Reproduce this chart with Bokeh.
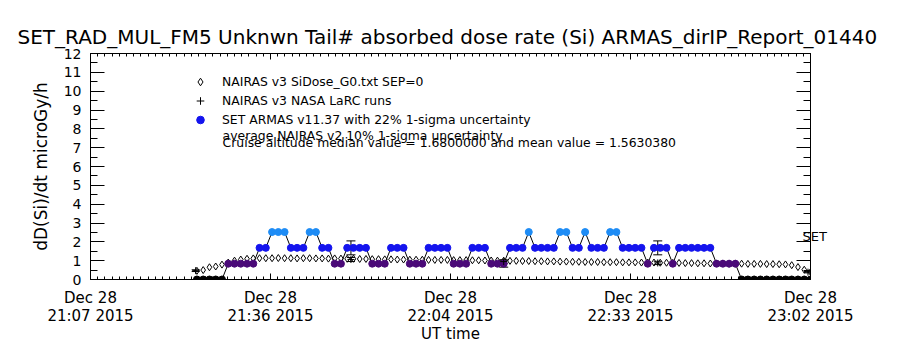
import numpy as np
import pandas as pd
from bokeh.plotting import figure
from bokeh.models import (Range1d, FixedTicker, DatetimeTickFormatter, DatetimeAxis, LinearAxis,
                          SingleIntervalTicker, ColumnDataSource, Whisker, TeeHead, Legend,
                          LegendItem, Label, CustomJSTickFormatter)
from bokeh.transform import linear_cmap
from bokeh.embed import file_html
from bokeh.resources import INLINE

# ---------------- data ----------------
day = "2015-12-28"
axis_start = "21:07:20"
axis_end = "23:02:20"
tick_times = ["21:07:20", "21:36:05", "22:04:50", "22:33:35", "23:02:20"]

# minutes after axis start, one sample per minute
armas_minutes = list(range(17, 116))
Z, P, B, L = 0.0, 0.84, 1.68, 2.52
armas_dose = ([Z] * 5 + [P] * 5 + [B] * 2 + [L] * 3 + [B] * 3 + [L] * 2 + [B] * 2 + [P] * 2 +
              [B] * 4 + [P] * 3 + [B] * 3 + [P] * 3 + [B] * 4 + [P] * 3 + [B] * 3 + [P] * 3 +
              [B] * 3 + [L] * 1 + [B] * 4 + [L] * 2 + [B] * 2 + [L] * 1 + [B] * 3 + [L] * 2 +
              [B] * 4 + [P] * 1 + [B] * 3 + [P] * 1 + [B] * 6 + [P] * 4 + [Z] * 12)

nairas_dose = [0.46, 0.50, 0.65, 0.69, 0.79, 0.90, 1.00, 1.06, 1.10, 1.12,
               1.13, 1.13, 1.13, 1.14, 1.13, 1.13, 1.12, 1.13, 1.13, 1.12,
               1.12, 1.11, 1.12, 1.11, 1.10, 1.10, 1.09, 1.09, 1.08, 1.08,
               1.07, 1.07, 1.06, 1.06, 1.05, 1.05, 1.05, 1.04, 1.04, 1.04,
               1.04, 1.03, 1.03, 1.03, 1.02, 1.02, 1.01, 1.01, 1.00, 1.00,
               0.99, 0.99, 0.98, 0.98, 0.97, 0.97, 0.96, 0.96, 0.95, 0.95,
               0.94, 0.94, 0.93, 0.93, 0.93, 0.92, 0.92, 0.92, 0.91, 0.91,
               0.91, 0.90, 0.90, 0.90, 0.89, 0.89, 0.88, 0.88, 0.87, 0.87,
               0.86, 0.86, 0.85, 0.85, 0.85, 0.84, 0.84, 0.84, 0.83, 0.83,
               0.83, 0.82, 0.82, 0.81, 0.80, 0.76, 0.66, 0.52, 0.40]

larc_minutes = [16.8, 41.6, 66.0, 90.6, 114.6]
larc_dose = [0.47, 1.06, 0.95, 0.88, 0.39]
larc_sigma = 0.10

armas_err_minutes = [41.6, 66.0, 90.6]
armas_err_dose = [1.68, 0.84, 1.68]
armas_sigma = 0.22

set_label_dose = 2.28
level_colors = ["#000000", "#4a0a78", "#1414ee", "#1e8cf5"]

# ---------------- helpers ----------------
t0 = pd.Timestamp(f"{day} {axis_start}")
t1 = pd.Timestamp(f"{day} {axis_end}")


def at(mins):
    return t0 + pd.to_timedelta(np.asarray(mins, dtype=float), unit="min")


def ms(ts):
    return pd.Timestamp(ts).value / 1e6


FONT = "DejaVu Sans"
blank = CustomJSTickFormatter(code="return ''")

p = figure(frame_width=720, frame_height=226, x_axis_type="datetime",
           x_range=Range1d(t0, t1), y_range=Range1d(0, 12),
           output_backend="svg", toolbar_location=None,
           min_border_left=90, min_border_right=90, min_border_top=53, min_border_bottom=71,
           background_fill_color="white", border_fill_color="white")
p.outline_line_color = None
p.grid.visible = False

# title
p.title.text = "SET_RAD_MUL_FM5 Unknwn Tail#  absorbed dose rate (Si) ARMAS_dirIP_Report_01440"
p.title.align = "center"
p.title.text_font = FONT
p.title.text_font_size = "20px"
p.title.text_font_style = "normal"
p.title.text_color = "black"

# ticks
major_ms = [ms(f"{day} {t}") for t in tick_times]
minor_ms = []
for a, b in zip(major_ms[:-1], major_ms[1:]):
    minor_ms.extend(np.linspace(a, b, 26)[1:-1].tolist())
xticker = FixedTicker(ticks=major_ms, minor_ticks=minor_ms)
fmt = "%b %d\n%H:%M %Y"
xfmt = DatetimeTickFormatter(microseconds=fmt, milliseconds=fmt, seconds=fmt, minsec=fmt,
                             minutes=fmt, hourmin=fmt, hours=fmt, days=fmt, months=fmt, years=fmt)

xa = p.xaxis[0]
xa.ticker = xticker
xa.formatter = xfmt
xa.axis_label = "UT time"
ya = p.yaxis[0]
ya.ticker = SingleIntervalTicker(interval=1, num_minor_ticks=2)
ya.axis_label = "dD(Si)/dt microGy/h"

for ax in (xa, ya):
    ax.axis_line_color = "black"
    ax.major_tick_line_color = "black"
    ax.minor_tick_line_color = "black"
    ax.major_tick_out = 0
    ax.minor_tick_out = 0
    ax.major_label_text_font = FONT
    ax.major_label_text_color = "black"
    ax.axis_label_text_font = FONT
    ax.axis_label_text_font_style = "normal"
    ax.axis_label_text_color = "black"

xa.major_tick_in = 6
xa.minor_tick_in = 3
xa.major_label_text_font_size = "15px"
xa.major_label_text_line_height = 1.0
xa.major_label_standoff = 9
xa.axis_label_text_font_size = "15px"
xa.axis_label_standoff = -3

ya.major_tick_in = 14
ya.minor_tick_in = 7
ya.major_label_text_font_size = "14px"
ya.major_label_standoff = 9
ya.axis_label_text_font_size = "17px"
ya.axis_label_standoff = 10

top = DatetimeAxis(ticker=xticker, formatter=blank,
                   major_tick_in=6, major_tick_out=0, minor_tick_in=3, minor_tick_out=0,
                   major_label_standoff=0, axis_line_color="black")
p.add_layout(top, "above")
right = LinearAxis(ticker=SingleIntervalTicker(interval=1, num_minor_ticks=2), formatter=blank,
                   major_tick_in=14, major_tick_out=0, minor_tick_in=7, minor_tick_out=0,
                   major_label_standoff=0, axis_line_color="black")
p.add_layout(right, "right")
set_axis = LinearAxis(ticker=FixedTicker(ticks=[set_label_dose], minor_ticks=[]),
                      major_label_overrides={set_label_dose: "SET"},
                      axis_line_color=None, major_tick_line_color=None,
                      minor_tick_line_color=None, major_tick_in=0, major_tick_out=0,
                      major_label_standoff=-8, major_label_text_font=FONT,
                      major_label_text_font_size="13px", major_label_text_color="black")
p.add_layout(set_axis, "right")

# ---------------- glyphs ----------------
nairas_src = ColumnDataSource(dict(t=at(armas_minutes), v=nairas_dose))
r_diam = p.scatter("t", "v", source=nairas_src, marker="diamond", size=7,
                   fill_color=None, line_color="black", line_width=1)

armas_src = ColumnDataSource(dict(t=at(armas_minutes), v=armas_dose))
p.line("t", "v", source=armas_src, line_color="black", line_width=1)
cmap = linear_cmap("v", level_colors, low=-0.42, high=2.94)
r_dots = p.scatter("t", "v", source=armas_src, marker="circle", size=7,
                   fill_color=cmap, line_color=cmap)

err_src = ColumnDataSource(dict(t=at(armas_err_minutes),
                                up=[v * (1 + armas_sigma) for v in armas_err_dose],
                                lo=[v * (1 - armas_sigma) for v in armas_err_dose]))
p.add_layout(Whisker(source=err_src, base="t", upper="up", lower="lo", dimension="height",
                     line_color="black", line_width=1,
                     upper_head=TeeHead(size=9, line_color="black"),
                     lower_head=TeeHead(size=9, line_color="black")))

larc_src = ColumnDataSource(dict(t=at(larc_minutes), v=larc_dose,
                                 up=[v * (1 + larc_sigma) for v in larc_dose],
                                 lo=[v * (1 - larc_sigma) for v in larc_dose]))
p.add_layout(Whisker(source=larc_src, base="t", upper="up", lower="lo", dimension="height",
                     line_color="black", line_width=1,
                     upper_head=TeeHead(size=8, line_color="black"),
                     lower_head=TeeHead(size=8, line_color="black")))
r_cross = p.scatter("t", "v", source=larc_src, marker="cross", size=7,
                    line_color="black", line_width=1)

# ---------------- legend & notes ----------------
blue_idx = armas_dose.index(B)
legend = Legend(items=[
    LegendItem(label="NAIRAS v3 SiDose_G0.txt SEP=0", renderers=[r_diam]),
    LegendItem(label="NAIRAS v3 NASA LaRC runs", renderers=[r_cross]),
    LegendItem(label="SET ARMAS v11.37 with 22% 1-sigma uncertainty", renderers=[r_dots],
               index=blue_idx),
], location=(100, 150), border_line_color=None, background_fill_alpha=0, padding=0,
    margin=0, spacing=0, glyph_width=20, glyph_height=19, label_height=19,
    label_standoff=12, label_text_font=FONT, label_text_font_size="12.4px",
    label_text_color="black")
p.add_layout(legend)

note_x = t0 + pd.Timedelta(minutes=21.1)
p.add_layout(Label(x=note_x, y=7.65, text="average NAIRAS v2 10% 1-sigma uncertainty",
                   text_font=FONT, text_font_size="12.4px", text_color="black",
                   text_baseline="alphabetic"))
p.add_layout(Label(x=note_x, y=7.27,
                   text="Cruise altitude median value =  1.6800000 and mean value = 1.5630380",
                   text_font=FONT, text_font_size="12.4px", text_color="black",
                   text_baseline="alphabetic"))

open("out.html", "w").write(file_html(p, INLINE))
